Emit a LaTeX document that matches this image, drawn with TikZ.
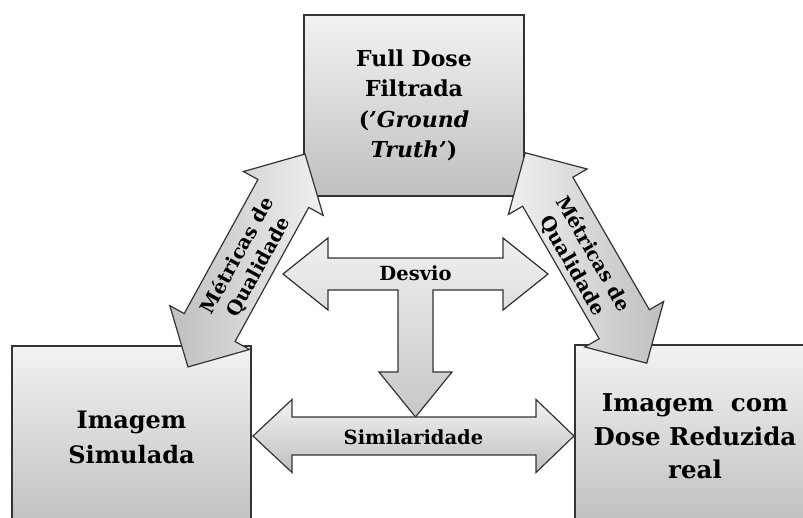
\documentclass[tikz,border=0pt]{standalone}
\usepackage{fontspec}
\setmainfont{DejaVu Serif}
\begin{document}
\begin{tikzpicture}[x=1pt,y=1pt,
  box/.style={draw=black!80, line width=1.3pt, top color=black!5, bottom color=black!25,
    align=center, inner sep=0pt},
  blk/.style={draw=black!80, line width=1.2pt, line join=miter},
  lbl/.style={font=\bfseries\fontsize{19.5}{24}\selectfont, align=center, inner sep=0pt, text=black}]
\useasboundingbox (0,0) rectangle (803,517);
\clip (0,0) rectangle (803,517);
% boxes
\node[box, minimum width=220pt, minimum height=181pt,
  font=\bfseries\fontsize{22}{30.3}\selectfont] (gt) at (414,411.5)
  {Full Dose\\Filtrada\\(\textit{'Ground}\\\textit{Truth'})};
\node[box, minimum width=239pt, minimum height=183pt,
  font=\bfseries\fontsize{24}{35}\selectfont] (sim) at (131.5,79.5)
  {Imagem\\Simulada};
\node[box, minimum width=240pt, minimum height=183pt,
  font=\bfseries\fontsize{24.5}{33.5}\selectfont] (real) at (695,80.5)
  {Imagem\ \ com\\Dose Reduzida\\real};
% left diagonal arrow
\begin{scope}[shift={(246.5,256.5)}, rotate=61.2]
  \path[blk, left color=black!25, right color=black!6]
    (-121.5,0) -- (-76.5,45.5) -- (-76.5,29) -- (76.5,29) -- (76.5,45.5) -- (121.5,0)
    -- (76.5,-45.5) -- (76.5,-29) -- (-76.5,-29) -- (-76.5,-45.5) -- cycle;
  \node[lbl, rotate=61.2] (mq1) at (0,-2) {Métricas de\\Qualidade};
\end{scope}
% right diagonal arrow
\begin{scope}[shift={(586,259)}, rotate=-60]
  \path[blk, left color=black!6, right color=black!25]
    (-121.5,0) -- (-76.5,45.5) -- (-76.5,29) -- (76.5,29) -- (76.5,45.5) -- (121.5,0)
    -- (76.5,-45.5) -- (76.5,-29) -- (-76.5,-29) -- (-76.5,-45.5) -- cycle;
  \node[lbl, rotate=-60] (mq2) at (0,-4) {Métricas de\\Qualidade};
\end{scope}
% T arrow (Desvio)
\path[blk, top color=black!6, bottom color=black!22]
  (283,243) -- (328,279) -- (328,259) -- (503,259) -- (503,279) -- (548,243)
  -- (503,207) -- (503,227) -- (433,227) -- (433,145) -- (452,145) -- (415.5,100)
  -- (379,145) -- (398,145) -- (398,227) -- (328,227) -- (328,207) -- cycle;
\node[lbl] (desvio) at (415.5,244) {Desvio};
% bottom arrow (Similaridade)
\path[blk, top color=black!5, bottom color=black!25]
  (253,81) -- (292,117.5) -- (292,100) -- (536,100) -- (536,117.5) -- (574,81)
  -- (536,44.5) -- (536,62) -- (292,62) -- (292,44.5) -- cycle;
\node[lbl] (simil) at (413.5,79.5) {Similaridade};
\end{tikzpicture}
\end{document}
